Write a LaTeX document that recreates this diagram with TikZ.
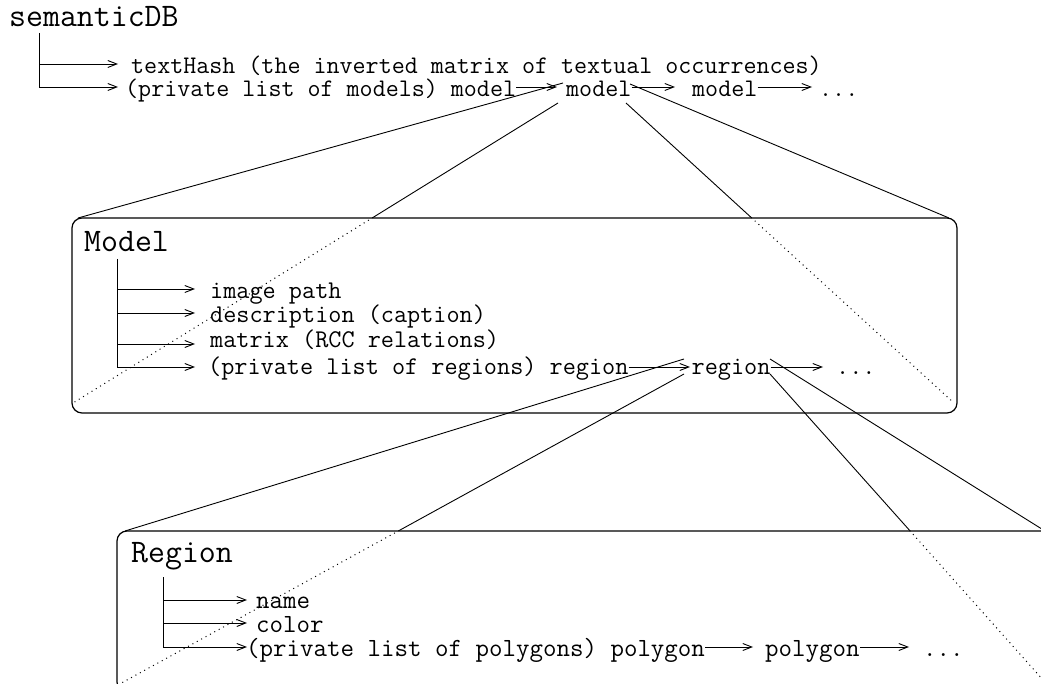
\documentclass[tikz,border=0pt]{standalone}
\usepackage{fontspec}
\usetikzlibrary{arrows.meta,calc}
\tikzset{
  txtA/.style={anchor=base west, inner sep=0pt, font=\ttfamily\fontsize{25.3}{29}\selectfont},
  txtB/.style={anchor=base west, inner sep=0pt, font=\ttfamily\fontsize{25.5}{29}\selectfont},
  txtC/.style={anchor=base west, inner sep=0pt, font=\ttfamily\fontsize{26.2}{30}\selectfont},
  ttl/.style={anchor=base west, inner sep=0pt, font=\ttfamily\fontsize{32.9}{38}\selectfont},
  arr/.style={-{Straight Barb[length=9pt,width=7pt]}, line width=0.9pt},
  ln/.style={line width=0.9pt},
  dot/.style={line width=1pt, dash pattern=on 1pt off 4pt},
  roundbox/.style={draw, line width=1.2pt, rounded corners=10pt, inner sep=0pt}
}
\begin{document}
\begin{tikzpicture}[x=1pt,y=-1pt]
\useasboundingbox (0,0) rectangle (1041,684);
\fill[white] (0,0) rectangle (1041,684);
\clip (0,0) rectangle (1041,684);

% ---------- top level ----------
\node[ttl] (sdb) at (9,27) {semanticDB};
\node[txtA] (th) at (131,74) {textHash (the inverted matrix of textual occurrences)};
\node[txtA] (m1) at (125,97) {(private list of models) model};
\node[txtA] (m2) at (566,97) {model};
\node[txtA] (m3) at (692,97) {model};
\node[txtA] (md) at (819,97) {...};

\coordinate (sT) at (39,33);
\coordinate (sA) at (39,64);
\coordinate (sB) at (39,87);
\draw[ln] (sT) -- (sB);
\draw[arr] (sA) -- ([xshift=-13pt]sA -| th.west);
\draw[arr] (sB) -- ([xshift=-7pt]sB -| m1.west);
\draw[arr] ([yshift=10pt]m1.base east) -- ([xshift=-9pt,yshift=10pt]m2.base west);
\draw[arr] ([yshift=10pt]m2.base east) -- ([xshift=-17pt,yshift=10pt]m3.base west);
\draw[arr] ([yshift=10pt]m3.base east) -- ([xshift=-7pt,yshift=10pt]md.base west);

% ---------- Model box ----------
\node[roundbox, minimum width=885pt, minimum height=195pt] (mbox) at (514.5,315.5) {};
\node[ttl] (mt) at (84,252) {Model};
\node[txtB] (i1) at (210,299) {image path};
\node[txtB] (i2) at (210,323) {description (caption)};
\node[txtB] (i3) at (210,348) {matrix (RCC relations)};
\node[txtB] (r1) at (208,374) {(private list of regions) region};
\node[txtB] (r2) at (691.5,374) {region};
\node[txtB] (rd) at (836,374) {...};

\coordinate (mT) at (117,259);
\coordinate (mA) at (117,289);
\coordinate (mB) at (117,313);
\coordinate (mC) at (117,344);
\coordinate (mD) at (117,367);
\draw[ln] (mT) -- (mD);
\draw[arr] (mA) -- ([xshift=-15pt]mA -| i1.west);
\draw[arr] (mB) -- ([xshift=-15pt]mB -| i2.west);
\draw[arr] (mC) -- ([xshift=-15pt]mC -| i3.west);
\draw[arr] (mD) -- ([xshift=-13pt]mD -| r1.west);
\draw[arr] ([yshift=7pt]r1.base east) -- ([xshift=-1.5pt,yshift=7pt]r2.base west);
\draw[arr] ([yshift=7pt]r2.base east) -- ([xshift=-13pt,yshift=7pt]rd.base west);

% zoom lines from second model
\coordinate (zTL) at (563,83);
\coordinate (zBL) at (558,103);
\coordinate (zBR) at (626,103);
\coordinate (zTR) at (630,84);
\coordinate (mNW) at (78,218);
\coordinate (mNE) at (949,218);
\coordinate (mSW) at (73,403);
\coordinate (mSE) at (954,403);
\coordinate (xL) at (intersection of zBL--mSW and mbox.north west--mbox.north east);
\coordinate (xR) at (intersection of zBR--mSE and mbox.north west--mbox.north east);
\draw[ln] (zTL) -- (mNW);
\draw[ln] (zTR) -- (mNE);
\draw[ln] (zBL) -- (xL);
\draw[dot] (xL) -- (mSW);
\draw[ln] (zBR) -- (xR);
\draw[dot] (xR) -- (mSE);

% ---------- Region box ----------
\node[roundbox, minimum width=935pt, minimum height=161pt] (rbox) at (584.5,611.5) {};
\node[ttl] (rt) at (131,562) {Region};
\node[txtC] (n1) at (256,608) {name};
\node[txtC] (n2) at (256,632) {color};
\node[txtC] (p1) at (246,656) {(private list of polygons) polygon};
\node[txtC] (p2) at (765,656) {polygon};
\node[txtC] (pd) at (923,656) {...};

\coordinate (rT) at (163,577);
\coordinate (rA) at (163,600);
\coordinate (rB) at (163,623);
\coordinate (rC) at (163,647);
\draw[ln] (rT) -- (rC);
\draw[arr] (rA) -- ([xshift=-9pt]rA -| n1.west);
\draw[arr] (rB) -- ([xshift=-9pt]rB -| n2.west);
\draw[arr] (rC) -- ([xshift=1pt]rC -| p1.west);
\draw[arr] ([yshift=9pt]p1.base east) -- ([xshift=-12pt,yshift=9pt]p2.base west);
\draw[arr] ([yshift=9pt]p2.base east) -- ([xshift=-14pt,yshift=9pt]pd.base west);

% zoom lines from second region
\coordinate (wTL) at (684,359);
\coordinate (wBL) at (684,374);
\coordinate (wBR) at (770,374);
\coordinate (wTR) at (770,359);
\coordinate (rNW) at (125,531);
\coordinate (rNE) at (1045,531);
\coordinate (rSW) at (116,686);
\coordinate (rSE) at (1052,690);
\coordinate (yL) at (intersection of wBL--rSW and rbox.north west--rbox.north east);
\coordinate (yR) at (intersection of wBR--rSE and rbox.north west--rbox.north east);
\draw[ln] (wTL) -- (rNW);
\draw[ln] (wTR) -- (rNE);
\draw[ln] (wBL) -- (yL);
\draw[dot] (yL) -- (rSW);
\draw[ln] (wBR) -- (yR);
\draw[dot] (yR) -- (rSE);
\end{tikzpicture}
\end{document}
